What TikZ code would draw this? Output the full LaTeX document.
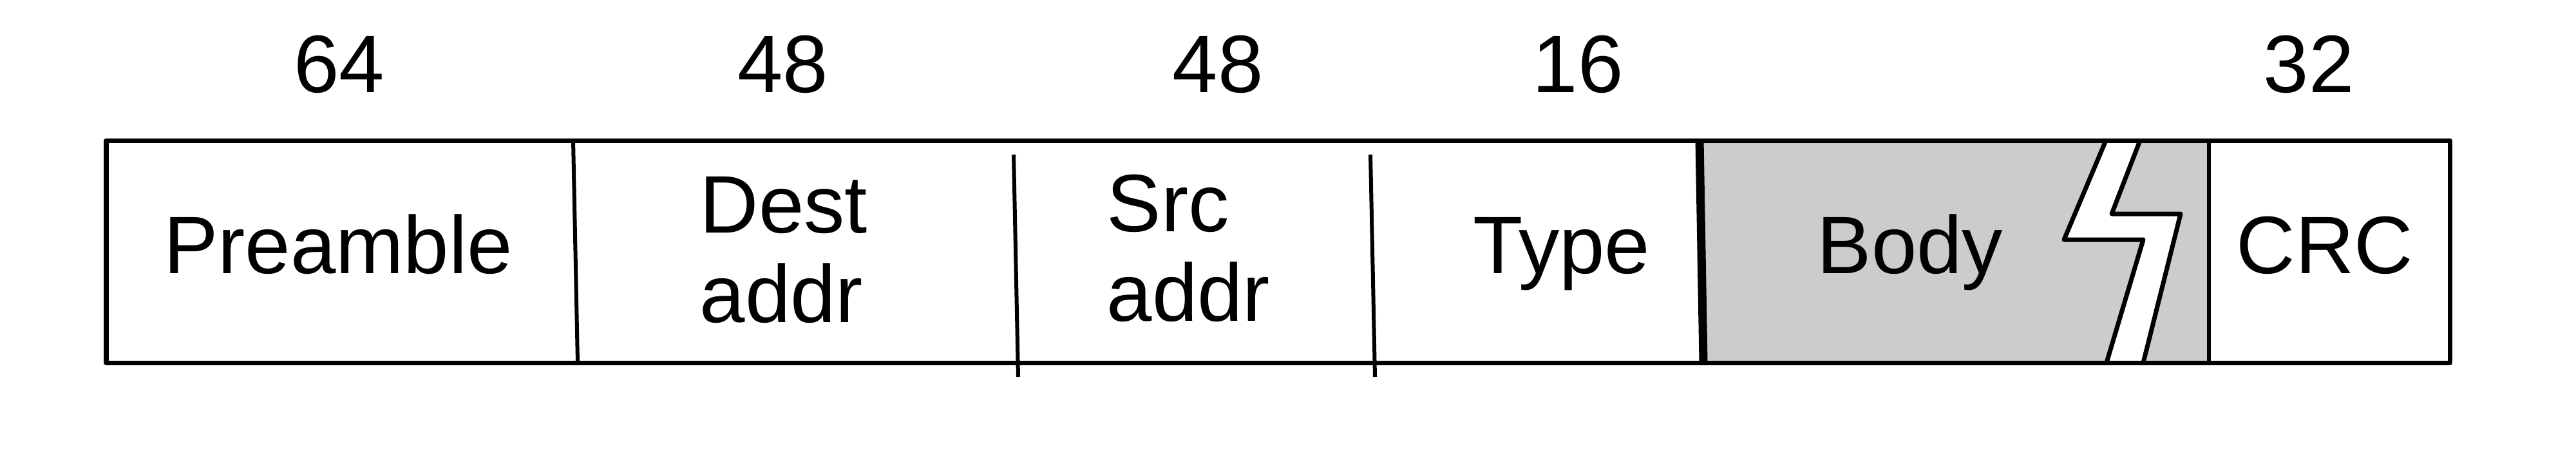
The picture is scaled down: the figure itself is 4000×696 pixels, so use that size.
\documentclass[tikz,border=0pt]{standalone}
\usepackage{fontspec}
\setmainfont{Liberation Sans}
\begin{document}
\begin{tikzpicture}[
    x=0.01cm, y=-0.01cm,
    field/.style={inner sep=0pt, font=\fontsize{36}{39.5}\selectfont},
    bits/.style={inner sep=0pt, anchor=base, font=\fontsize{36}{39.5}\selectfont},
    frame/.style={line width=0.07cm, line join=round},
    divider/.style={line width=0.06cm},
    bodyedge/.style={line width=0.13cm},
    zigzag/.style={line width=0.07cm, line join=round},
    bodyfill/.style={fill=gray!40}
]
    % Page
    \useasboundingbox [fill=white] (0,0) rectangle (4000,696);

    % Body shading, with the break left white
    \fill [bodyfill] (2639,218) -- (3270,218) -- (3205,372) -- (3328,372) -- (3271,563) -- (2645,563) -- cycle;
    \fill [bodyfill] (3323,218) -- (3430,218) -- (3430,563) -- (3328,563) -- (3386,332) -- (3279,332) -- cycle;
    \draw [zigzag] (3270,218) -- (3205,372) -- (3328,372) -- (3271,563);
    \draw [zigzag] (3323,218) -- (3279,332) -- (3386,332) -- (3328,563);

    % Frame and dividers
    \draw [frame] (165,218) rectangle (3804,563);
    \draw [divider] (890,218) -- (897,563);
    \draw [divider] (1574,240) -- (1581,585);
    \draw [divider] (2128,240) -- (2135,585);
    \draw [bodyedge] (2639,218) -- (2645,563);
    \draw [divider] (3430,218) -- (3430,563);

    % Fields
    \node [field, anchor=base] (preamble) at (525,424) {Preamble};
    \node [field, anchor=west, align=left] (dest) at (1086,388) {Dest\\addr};
    \node [field, anchor=west, align=left] (src) at (1718,385) {Src\\addr};
    \node [field, anchor=base] (type) at (2425,424) {Type};
    \node [field, anchor=base] (body) at (2966,424) {Body};
    \node [field, anchor=base] (crc) at (3610,424) {CRC};

    % Field sizes
    \node [bits] (preamblebits) at (527,143) {64};
    \node [bits] (destbits) at (1216,143) {48};
    \node [bits] (srcbits) at (1891,143) {48};
    \node [bits] (typebits) at (2450,143) {16};
    \node [bits] (crcbits) at (3585,143) {32};
\end{tikzpicture}
\end{document}
